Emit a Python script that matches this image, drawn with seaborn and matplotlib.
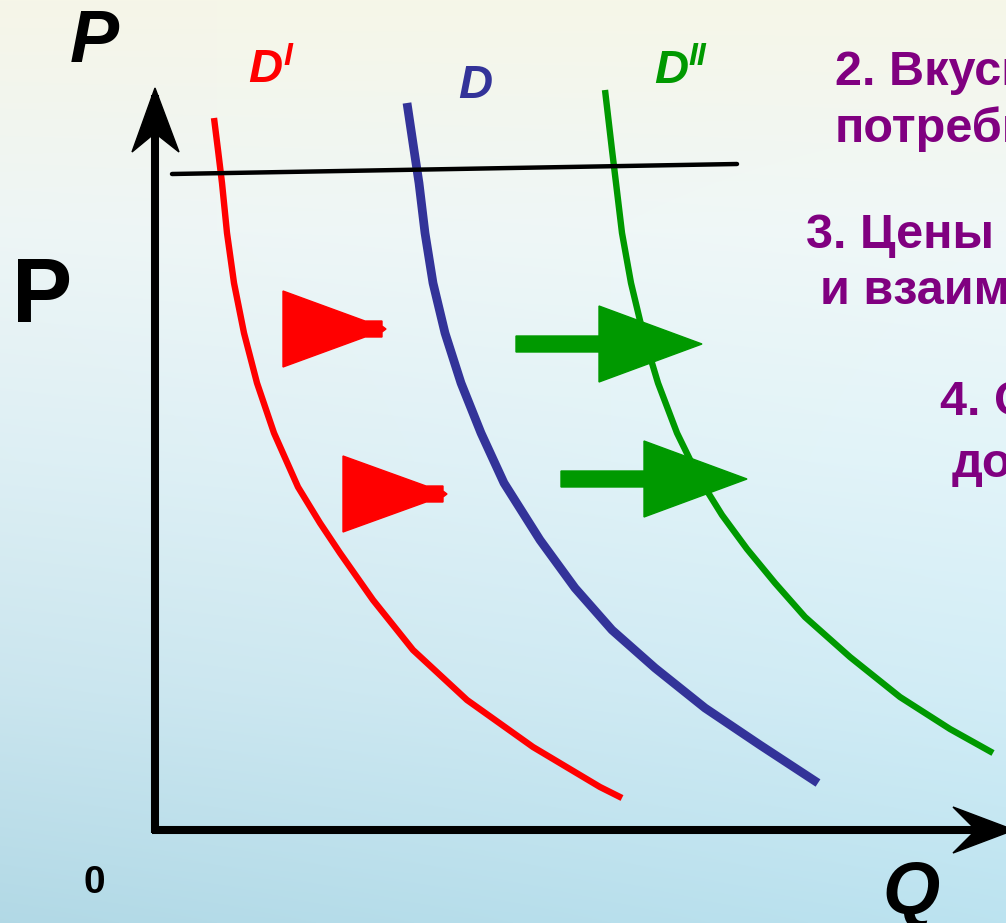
import numpy as np
import pandas as pd
import matplotlib.pyplot as plt
import seaborn as sns
from matplotlib.patches import Polygon

sns.set_theme(style="white")
plt.rcParams['font.family'] = ['Liberation Sans', 'DejaVu Sans']

# demand curves, points (picture pixels, y down)
d1_x = [214, 218, 222, 227, 234, 244, 257, 274, 298, 320, 340, 373, 413,
        467, 533, 600, 622]
d1_y = [118, 150, 183, 233, 283, 333, 383, 433, 487, 523, 553, 600, 650,
        700, 747, 787, 798]
d0_x = [407, 414, 419, 425, 433, 445, 461, 481, 504, 540, 575, 612, 655,
        705, 760, 818]
d0_y = [103, 150, 183, 233, 283, 333, 383, 433, 483, 540, 588, 630, 668,
        708, 745, 783]
d2_x = [605, 612, 616, 622, 631, 643, 658, 677, 699, 722, 747, 775, 805,
        850, 900, 950, 993]
d2_y = [90, 150, 183, 233, 283, 333, 383, 433, 478, 515, 549, 583, 617,
        657, 697, 729, 753]

# price level line
price_x = [172, 737]
price_y = [174, 164]

# shift arrows: y, tail x, head base x, tip x
green_y = [344, 479]
green_tail = [516, 561]
green_base = [599, 644]
green_tip = [702, 747]
red_y = [329, 494]
red_base = [283, 343]
red_tip = [386, 447]

text_lines = ["2. Вкусы и предпочтения", "потребителей",
              "3. Цены на заменяющие", "и взаимодополняющие товары",
              "4. Ожидания потребителей", "доходы"]
text_x = [835, 835, 806, 820, 940, 952]
text_y = [85, 142, 248, 304, 415, 477]

W, H = 1006, 923
fig = plt.figure(figsize=(W / 100, H / 100), dpi=100)
ax = fig.add_axes([0, 0, 1, 1])
ax.set_xlim(0, W)
ax.set_ylim(H, 0)
ax.axis('off')

# slide background: cream at the top, light blue lower down
stops = np.array([[246, 246, 232], [240, 248, 248], [226, 244, 249],
                  [210, 237, 246], [188, 227, 240]]) / 255
pos = np.linspace(0, 1, len(stops))
t = np.linspace(0, 1, H)
col = np.stack([np.interp(t, pos, stops[:, i]) for i in range(3)], axis=1)
bg = np.repeat(col[:, None, :], W, axis=1)
xx = np.linspace(0, 1, W)[None, :, None]
bg = np.clip(bg - 0.04 * (1 - xx) * t[:, None, None], 0, 1)
ax.imshow(bg, extent=[0, W, H, 0], aspect='auto', zorder=0)

curves = pd.concat([
    pd.DataFrame({'q': d1_x, 'p': d1_y, 'curve': 'D1'}),
    pd.DataFrame({'q': d0_x, 'p': d0_y, 'curve': 'D'}),
    pd.DataFrame({'q': d2_x, 'p': d2_y, 'curve': 'D2'}),
])
palette = {'D1': '#ff0000', 'D': '#333399', 'D2': '#009900'}
for name, lw in [('D1', 4.6), ('D', 6.3), ('D2', 4.6)]:
    sub = curves[curves['curve'] == name]
    sns.lineplot(data=sub, x='q', y='p', sort=False, estimator=None,
                 color=palette[name], lw=lw, ax=ax, zorder=3,
                 solid_capstyle='butt', solid_joinstyle='round')

ax.plot(price_x, price_y, color='black', lw=3.2, zorder=4)

# axes with arrowheads
ax.plot([155, 155], [833, 95], color='black', lw=5.8, zorder=5,
        solid_capstyle='butt')
ax.plot([152, 990], [830, 830], color='black', lw=5.8, zorder=5,
        solid_capstyle='butt')
ax.add_patch(Polygon([(155, 88), (179, 152), (155, 133), (132, 152)],
                     closed=True, color='black', zorder=6))
ax.add_patch(Polygon([(1014, 830), (953, 853), (976, 830), (953, 807)],
                     closed=True, color='black', zorder=6))

for y, a, b, tip in zip(green_y, green_tail, green_base, green_tip):
    ax.add_patch(Polygon([(a, y - 8), (b, y - 8), (b, y - 38), (tip, y),
                          (b, y + 38), (b, y + 8), (a, y + 8)],
                         closed=True, color='#009900', zorder=7))
for y, b, tip in zip(red_y, red_base, red_tip):
    ax.add_patch(Polygon([(b, y - 38), (tip - 21, y - 8), (tip - 4, y - 8),
                          (tip - 4, y - 3), (tip, y), (tip - 4, y + 3),
                          (tip - 4, y + 8), (tip - 21, y + 8), (b, y + 38)],
                         closed=True, color='#ff0000', zorder=7))

# labels
ax.text(70, 62, 'P', fontsize=53, fontweight='bold', style='italic',
        va='baseline', color='black')
ax.text(12, 322, 'P', fontsize=65, fontweight='bold', va='baseline',
        color='black')
ax.text(84, 893, '0', fontsize=28, fontweight='bold', va='baseline',
        color='black')
ax.text(882, 913, 'Q', fontsize=53, fontweight='bold', style='italic',
        va='baseline', color='black')

ax.text(248, 82, 'D', fontsize=34, fontweight='bold', style='italic',
        va='baseline', color='#ff0000')
ax.text(283, 65, 'I', fontsize=23, fontweight='bold', style='italic',
        va='baseline', color='#ff0000')
ax.text(458, 98, 'D', fontsize=34, fontweight='bold', style='italic',
        va='baseline', color='#333399')
ax.text(654, 83, 'D', fontsize=34, fontweight='bold', style='italic',
        va='baseline', color='#009900')
ax.text(688, 65, 'II', fontsize=23, fontweight='bold', style='italic',
        va='baseline', color='#009900')

for s, x, y in zip(text_lines, text_x, text_y):
    ax.text(x, y, s, fontsize=35, fontweight='bold', va='baseline',
            color='#800080', clip_on=True)

fig.savefig('out.png', dpi=100)
